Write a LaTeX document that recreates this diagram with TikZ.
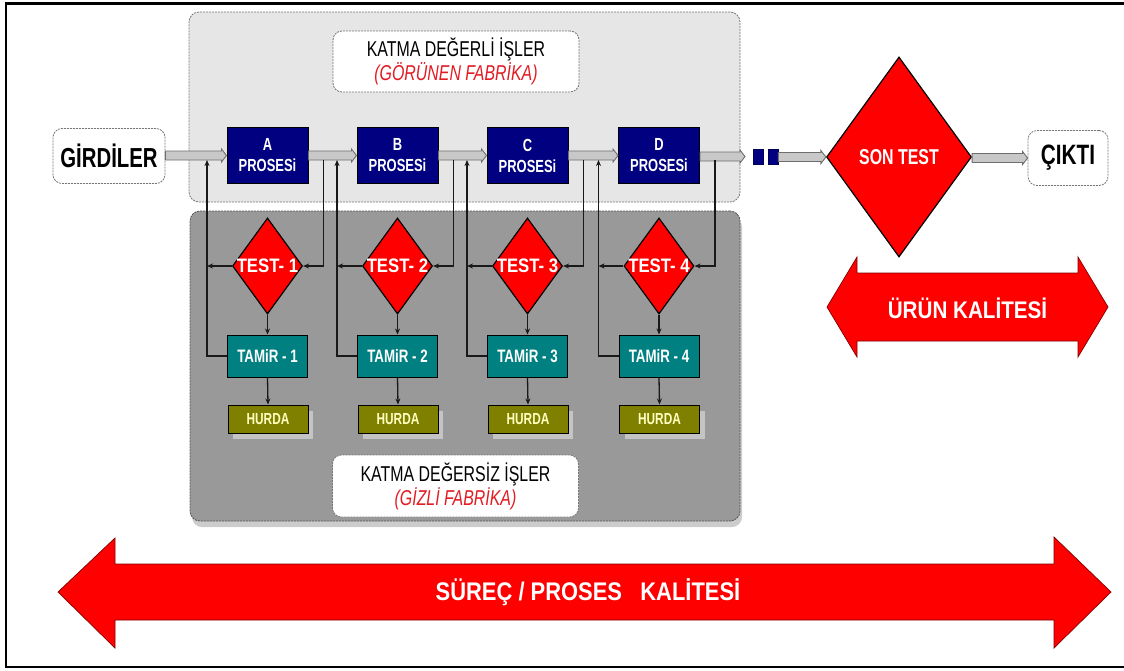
\documentclass[tikz,border=0pt]{standalone}
\usepackage{fontspec}
\setmainfont{Liberation Sans}
\newfontfamily\nfont[FakeStretch=0.74]{Liberation Sans}
\newfontfamily\mfont[FakeStretch=0.86]{Liberation Sans}
\usetikzlibrary{shapes.geometric,calc,shadows,arrows.meta}
\definecolor{navyc}{HTML}{000080}
\definecolor{tealc}{HTML}{008080}
\definecolor{olivec}{HTML}{808000}
\definecolor{hurdatext}{HTML}{FFFFC0}
\definecolor{panelL}{HTML}{E6E6E6}
\definecolor{panelD}{HTML}{999999}
\definecolor{panelS}{HTML}{CCCCCC}
\definecolor{hshadow}{HTML}{C4C4C4}
\definecolor{redc}{HTML}{FF0000}
\definecolor{redtext}{HTML}{E31B23}
\definecolor{flowfill}{HTML}{C8C8C8}
\definecolor{flowdraw}{HTML}{6E6E6E}
\definecolor{dashc}{HTML}{777777}
\newcommand\flowarrow[2]{%
  \draw[flowstyle] (#1 |- #2) ++(0,-4.5) -- ($(#2)+(-5,-4.5)$) -- ($(#2)+(-5,-6.5)$) -- (#2)
    -- ($(#2)+(-5,6.5)$) -- ($(#2)+(-5,4.5)$) -- ($(#1 |- #2)+(0,4.5)$) -- cycle;}
\tikzset{
  flowstyle/.style={fill=flowfill, draw=flowdraw, line width=0.9pt, line join=miter},
  dashbox/.style={draw=dashc, line width=0.8pt, dash pattern=on 2pt off 1pt, fill=white, rounded corners=9pt, inner sep=0},
  upperpanel/.style={draw=dashc, line width=0.8pt, dash pattern=on 2pt off 1pt, fill=panelL, rounded corners=10pt, inner sep=0},
  lowerpanel/.style={draw=dashc!70!black, line width=0.8pt, dash pattern=on 2pt off 1pt, fill=panelD, rounded corners=10pt, inner sep=0,
    general shadow={fill=panelS, shadow xshift=2pt, shadow yshift=-6pt}},
  labelbox/.style={dashbox, minimum width=246pt, minimum height=61pt, align=center, font=\nfont\fontsize{21.5}{24}\selectfont},
  endbox/.style={dashbox, minimum height=55pt, font=\nfont\bfseries\fontsize{27.5}{30}\selectfont},
  procbox/.style={draw=black, line width=1pt, fill=navyc, text=white, minimum width=81pt, minimum height=56pt, inner sep=0,
    align=center, font=\nfont\bfseries\fontsize{17.5}{21}\selectfont},
  testd/.style={diamond, draw=black, line width=1.2pt, fill=redc, text=white, minimum width=70pt, minimum height=96pt, inner sep=0,
    font=\mfont\bfseries\fontsize{19.5}{20}\selectfont},
  tamirbox/.style={draw=black, line width=1pt, fill=tealc, text=white, minimum width=80pt, minimum height=42pt, inner sep=0,
    font=\nfont\bfseries\fontsize{18}{20}\selectfont},
  hurdabox/.style={draw=black, line width=1pt, fill=olivec, text=hurdatext, minimum width=80pt, minimum height=28pt, inner sep=0,
    font=\nfont\bfseries\fontsize{16}{18}\selectfont, general shadow={fill=hshadow, shadow xshift=5pt, shadow yshift=-6pt}},
  sqbox/.style={fill=navyc, draw=navyc!70!black, line width=0.6pt, minimum width=10pt, minimum height=15pt, inner sep=0},
  conn/.style={draw=black!90, line width=1.3pt},
  tip/.style={-{Stealth[length=6pt,width=5pt]}},
  bigarrow/.style={fill=redc, draw=red!50!black, line width=0.7pt, line join=miter},
  bigtext/.style={text=white, inner sep=0, font=\mfont\bfseries\fontsize{24}{26}\selectfont}
}
\begin{document}
\begin{tikzpicture}[x=1pt,y=-1pt]
\useasboundingbox (0,0) rectangle (1124,670);
% frame
\draw[line width=3pt] (5,3) -- (1124,3);
\draw[line width=2pt] (6,2) -- (6,668);
\draw[line width=2.5pt] (5,667) -- (1124,667);
% panels
\node[upperpanel, minimum width=551pt, minimum height=190pt] (up) at (464.5,107) {};
\node[lowerpanel, minimum width=550pt, minimum height=310pt] (low) at (465,366) {};
\node[labelbox] (lab1) at (456,61.5) {KATMA DEĞERLİ İŞLER\\\textcolor{redtext}{\itshape (GÖRÜNEN FABRİKA)}};
\node[labelbox, minimum height=62pt] (lab2) at (455.5,486) {KATMA DEĞERSİZ İŞLER\\\textcolor{redtext}{\itshape (GİZLİ FABRİKA)}};
% inputs/outputs
\node[endbox, minimum width=112pt] (gir) at (109,156) {GİRDİLER};
\node[endbox, minimum width=80pt, font=\nfont\bfseries\fontsize{28}{30}\selectfont] (cik) at (1068,158) {ÇIKTI};
\node[diamond, draw=black, line width=1.2pt, fill=redc, text=white, minimum width=145pt, minimum height=200pt, inner sep=0,
  font=\nfont\bfseries\fontsize{21.5}{24}\selectfont] (son) at (899,157) {\makebox[0pt]{SON TEST}};
\node[sqbox] (sq1) at (758,156.5) {};
\node[sqbox] (sq2) at (773,156.5) {};
\coordinate (dtip) at (745,156.5);
% process columns
\foreach \n/\x/\l/\k in {a/267.5/A/1, b/397.5/B/2, c/527.5/C/3, d/659/D/4}{
  \node[procbox] (p\n) at (\x,155.5) {\l\\PROSESi};
  \node[testd] (t\n) at (\x,266) {\makebox[0pt]{TEST- \k}};
  \node[tamirbox] (r\n) at (\x,356) {TAMiR - \k};
  \node[hurdabox] (h\n) at (\x+0.5,419) {HURDA};
}
% main flow
\flowarrow{gir.east}{pa.west}
\flowarrow{pa.east}{pb.west}
\flowarrow{pb.east}{pc.west}
\flowarrow{pc.east}{pd.west}
\flowarrow{pd.east}{dtip}
\flowarrow{sq2.east}{son.west}
\flowarrow{son.east}{cik.west}
% test / repair loops
\foreach \n in {a,b,c,d}{
  \coordinate (l\n) at ($(p\n.west)+(-19.5,4.5)$);
  \draw[conn, tip] ($(p\n.east)+(15,4.5)$) |- (t\n.east);
  \draw[conn, tip] (t\n.west) -- (t\n.west -| l\n);
  \draw[conn, tip] (r\n.west) -| (l\n);
  \draw[conn, tip] (t\n.south) -- (r\n.north);
  \draw[conn, tip] (r\n.south) -- (h\n.north);
}
% quality arrows
\draw[bigarrow] (827,307) -- (857,257) -- (857,273) -- (1078,273) -- (1078,257) -- (1108,307)
  -- (1078,357) -- (1078,341) -- (857,341) -- (857,357) -- cycle;
\node[bigtext] (urun) at (967.5,308) {ÜRÜN KALİTESİ};
\draw[bigarrow] (58,592) -- (115,538) -- (115,564) -- (1054,564) -- (1054,537) -- (1111,592)
  -- (1054,648) -- (1054,620) -- (115,620) -- (115,648) -- cycle;
\node[bigtext, font=\mfont\bfseries\fontsize{25.5}{28}\selectfont] (surec) at (588,592) {SÜREÇ / PROSES~~~KALİTESİ};
\end{tikzpicture}
\end{document}
